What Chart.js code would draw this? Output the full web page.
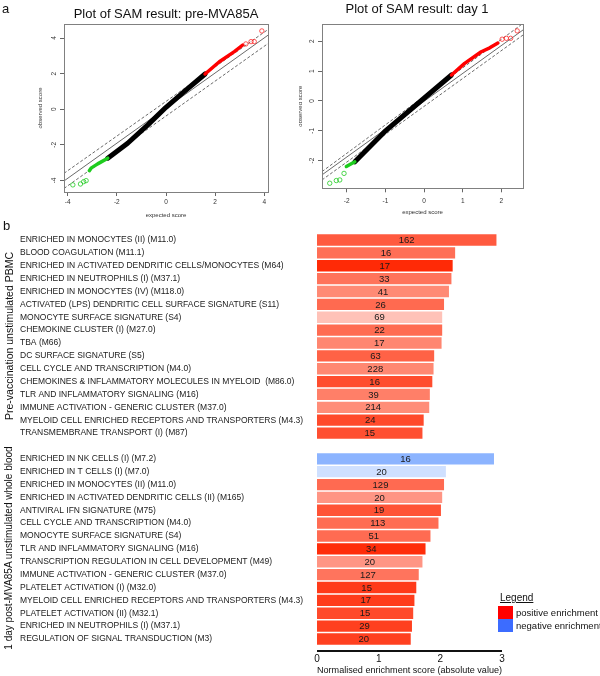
<!DOCTYPE html>
<html>
<head>
<meta charset="utf-8">
<script src="https://cdn.jsdelivr.net/npm/chart.js@4.4.0/dist/chart.umd.min.js"></script>
<style>
  body { margin: 0; background: #fff; }
  #page { position: relative; width: 600px; height: 676px; overflow: hidden; font-family: "Liberation Sans", Arial, sans-serif; color: #111; }
  canvas { position: absolute; }
  .t { position: absolute; white-space: nowrap; line-height: 1; }
  .c { transform: translate(-50%, -50%); }
  .v { transform: translate(-50%, -50%) rotate(-90deg); }
  .m { transform: translateY(-50%); }
  .sw { position: absolute; width: 15px; height: 13px; }
</style>
</head>
<body>
<div id="page">
  <canvas id="samPre" width="300" height="235" style="left:0;top:0"></canvas>
  <canvas id="samDay" width="301" height="235" style="left:299px;top:0"></canvas>
  <canvas id="nesBars" width="600" height="451" style="left:0;top:225px"></canvas>

  <div class="t m" style="left:2px;top:8px;font-size:13px">a</div>
  <div class="t m" style="left:3px;top:225px;font-size:13px">b</div>
  <div class="t c" style="left:166px;top:13px;font-size:13px">Plot of SAM result: pre-MVA85A</div>
  <div class="t c" style="left:417px;top:8px;font-size:13px">Plot of SAM result: day 1</div>

  <div class="t v" style="left:9px;top:336px;font-size:10.5px">Pre-vaccination unstimulated PBMC</div>
  <div class="t v" style="left:9px;top:548px;font-size:10px">1 day post-MVA85A unstimulated whole blood</div>

  <div class="t m" style="left:500px;top:598px;font-size:10px;text-decoration:underline">Legend</div>
  <div class="sw" style="left:498px;top:606px;background:#ff0000"></div>
  <div class="sw" style="left:498px;top:619px;background:#3c6cff"></div>
  <div class="t m" style="left:516px;top:612.5px;font-size:9.5px">positive enrichment</div>
  <div class="t m" style="left:516px;top:625.5px;font-size:9.5px">negative enrichment</div>
</div>

<script>
// ---- panel a: SAM plots ----
const preLineX = [-4.15, 4.15];
const preSolidY = [-4.03, 4.16];
const preUpperY = [-3.6, 4.48];
const preLowerY = [-4.45, 3.69];
const preBlackX = [-2.37, -1.56, -0.74, 0, 0.74, 1.59];
const preBlackY = [-2.75, -1.91, -0.88, 0.11, 0.99, 1.98];
const preRedX = [1.59, 2.17, 2.78, 3.12];
const preRedY = [1.98, 2.67, 3.24, 3.61];
const preRedDotX = [3.25, 3.46, 3.59, 3.9];
const preRedDotY = [3.67, 3.8, 3.8, 4.4];
const preGreenX = [-2.37, -2.78, -3.05, -3.12];
const preGreenY = [-2.75, -3.07, -3.31, -3.45];
const preGreenDotX = [-3.25, -3.35, -3.48, -3.79];
const preGreenDotY = [-4.01, -4.07, -4.2, -4.25];

const dayLineX = [-2.64, 2.56];
const daySolidY = [-2.48, 2.38];
const dayUpperY = [-2.37, 2.6];
const dayLowerY = [-2.65, 2.21];
const dayBlackX = [-1.79, -1.02, 0, 0.71];
const dayBlackY = [-2.04, -1.03, 0.09, 0.87];
const dayRedX = [0.71, 1.05, 1.48, 1.7, 1.91];
const dayRedY = [0.87, 1.26, 1.65, 1.78, 1.94];
const dayRedDotX = [2.02, 2.13, 2.24, 2.41];
const dayRedDotY = [2.07, 2.1, 2.1, 2.35];
const dayGreenX = [-1.79, -2.01];
const dayGreenY = [-2.04, -2.2];
const dayGreenDotX = [-2.07, -2.18, -2.27, -2.44];
const dayGreenDotY = [-2.43, -2.65, -2.67, -2.76];

// ---- panel b: enrichment bars ----
const preModules = [
  'ENRICHED IN MONOCYTES (II) (M11.0)',
  'BLOOD COAGULATION (M11.1)',
  'ENRICHED IN ACTIVATED DENDRITIC CELLS/MONOCYTES (M64)',
  'ENRICHED IN NEUTROPHILS (I) (M37.1)',
  'ENRICHED IN MONOCYTES (IV) (M118.0)',
  'ACTIVATED (LPS) DENDRITIC CELL SURFACE SIGNATURE (S11)',
  'MONOCYTE SURFACE SIGNATURE (S4)',
  'CHEMOKINE CLUSTER (I) (M27.0)',
  'TBA (M66)',
  'DC SURFACE SIGNATURE (S5)',
  'CELL CYCLE AND TRANSCRIPTION (M4.0)',
  'CHEMOKINES & INFLAMMATORY MOLECULES IN MYELOID  (M86.0)',
  'TLR AND INFLAMMATORY SIGNALING (M16)',
  'IMMUNE ACTIVATION - GENERIC CLUSTER (M37.0)',
  'MYELOID CELL ENRICHED RECEPTORS AND TRANSPORTERS (M4.3)',
  'TRANSMEMBRANE TRANSPORT (I) (M87)'
];
const preNES = [2.91, 2.24, 2.20, 2.18, 2.14, 2.06, 2.03, 2.03, 2.02, 1.90, 1.89, 1.87, 1.83, 1.82, 1.73, 1.71];
const preGenes = [162, 16, 17, 33, 41, 26, 69, 22, 17, 63, 228, 16, 39, 214, 24, 15];

const dayModules = [
  'ENRICHED IN NK CELLS (I) (M7.2)',
  'ENRICHED IN T CELLS (I) (M7.0)',
  'ENRICHED IN MONOCYTES (II) (M11.0)',
  'ENRICHED IN ACTIVATED DENDRITIC CELLS (II) (M165)',
  'ANTIVIRAL IFN SIGNATURE (M75)',
  'CELL CYCLE AND TRANSCRIPTION (M4.0)',
  'MONOCYTE SURFACE SIGNATURE (S4)',
  'TLR AND INFLAMMATORY SIGNALING (M16)',
  'TRANSCRIPTION REGULATION IN CELL DEVELOPMENT (M49)',
  'IMMUNE ACTIVATION - GENERIC CLUSTER (M37.0)',
  'PLATELET ACTIVATION (I) (M32.0)',
  'MYELOID CELL ENRICHED RECEPTORS AND TRANSPORTERS (M4.3)',
  'PLATELET ACTIVATION (II) (M32.1)',
  'ENRICHED IN NEUTROPHILS (I) (M37.1)',
  'REGULATION OF SIGNAL TRANSDUCTION (M3)'
];
const dayNES = [2.87, 2.09, 2.06, 2.03, 2.01, 1.97, 1.84, 1.76, 1.71, 1.65, 1.61, 1.58, 1.56, 1.54, 1.52];
const dayGenes = [16, 20, 129, 20, 19, 113, 51, 34, 20, 127, 15, 17, 15, 29, 20];

const xTickLabels = ['0', '1', '2', '3'];

// bar fill colours, same order as the bars (blank slot between groups)
const preColors = ['#ff5a3f', '#ff6f56', '#ff2a06', '#ff735b', '#ff8a75', '#ff6a50', '#ffc2b8', '#ff6c52',
                   '#ff8670', '#ff6246', '#ff8872', '#ff4d2e', '#ff7f68', '#ff8d78', '#ff4a2b', '#ff4f31'];
const dayColors = ['#8cb4ff', '#cfe0ff', '#ff6a51', '#ff9584', '#ff5336', '#ff6c53', '#ff6b52', '#ff2d0a',
                   '#ff9584', '#ff745d', '#ff3a19', '#ff3c1b', '#ff4a2b', '#ff401f', '#ff4020'];

const FONT = '"Liberation Sans", Arial, sans-serif';

function pts(xs, ys) {
  return xs.map((x, i) => ({x: x, y: ys[i]}));
}

// grey frame round the plot region, like R's box()
const frameBox = {
  id: 'frameBox',
  afterDraw(chart) {
    const {ctx, chartArea: a} = chart;
    ctx.save();
    ctx.strokeStyle = '#808080';
    ctx.lineWidth = 1;
    ctx.strokeRect(Math.round(a.left) + 0.5, Math.round(a.top) + 0.5,
                   Math.round(a.right - a.left), Math.round(a.bottom - a.top));
    ctx.restore();
  }
};

// R draws y tick labels parallel to the axis
const rotatedYTicks = {
  id: 'rotatedYTicks',
  afterDraw(chart) {
    const s = chart.scales.y;
    const ctx = chart.ctx;
    ctx.save();
    ctx.font = '6.5px ' + FONT;
    ctx.fillStyle = '#333';
    ctx.textAlign = 'center';
    ctx.textBaseline = 'middle';
    s.ticks.forEach(t => {
      ctx.save();
      ctx.translate(s.right - 10, s.getPixelForValue(t.value));
      ctx.rotate(-Math.PI / 2);
      ctx.fillText(t.label, 0, 0);
      ctx.restore();
    });
    ctx.restore();
  }
};

function samChart(id, d, box) {
  const circle = (color) => ({
    showLine: false, pointRadius: 2.2, pointBorderWidth: 0.8,
    pointBorderColor: color, pointBackgroundColor: 'rgba(0,0,0,0)'
  });
  const run = (color, w) => ({
    showLine: true, borderColor: color, borderWidth: w, pointRadius: 0,
    borderCapStyle: 'round', borderJoinStyle: 'round'
  });
  const guide = (dash) => ({
    showLine: true, borderColor: '#444', borderWidth: 0.8, pointRadius: 0, borderDash: dash
  });
  return new Chart(document.getElementById(id), {
    type: 'scatter',
    data: {
      datasets: [
        Object.assign({data: pts(d.redDotX, d.redDotY)}, circle('#ff2a2a')),
        Object.assign({data: pts(d.greenDotX, d.greenDotY)}, circle('#22cc22')),
        Object.assign({data: pts(d.redX, d.redY)}, run('#ff0000', 3.5)),
        Object.assign({data: pts(d.greenX, d.greenY)}, run('#1ecc1e', 3.5)),
        Object.assign({data: pts(d.blackX, d.blackY)}, run('#000', 5)),
        Object.assign({data: pts(d.lineX, d.solidY)}, guide([])),
        Object.assign({data: pts(d.lineX, d.upperY)}, guide([3, 2])),
        Object.assign({data: pts(d.lineX, d.lowerY)}, guide([3, 2]))
      ]
    },
    options: {
      responsive: false,
      animation: false,
      layout: {padding: {left: 0, right: box.right, top: 24, bottom: 0}},
      plugins: {legend: {display: false}, tooltip: {enabled: false}},
      scales: {
        x: {
          min: box.xmin, max: box.xmax,
          ticks: {stepSize: box.xstep, includeBounds: false, font: {size: 6.5, family: FONT}, color: '#333', padding: box.xpad},
          grid: {drawOnChartArea: false, tickLength: 4, color: '#666'},
          border: {display: false},
          title: {display: true, text: 'expected score', font: {size: 6, family: FONT}, color: '#333',
                  padding: {top: 0, bottom: box.xtitle}},
          afterFit: s => { s.height = box.xh; }
        },
        y: {
          min: box.ymin, max: box.ymax,
          ticks: {stepSize: box.ystep, includeBounds: false, color: 'rgba(0,0,0,0)', font: {size: 6.5, family: FONT}},
          grid: {drawOnChartArea: false, tickLength: 4, color: '#666'},
          border: {display: false},
          title: {display: true, text: 'observed score', font: {size: 6, family: FONT}, color: '#333',
                  padding: {top: box.ytitle, bottom: 0}},
          afterFit: s => { s.width = box.yw; }
        }
      }
    },
    plugins: [frameBox, rotatedYTicks]
  });
}

samChart('samPre', {
  lineX: preLineX, solidY: preSolidY, upperY: preUpperY, lowerY: preLowerY,
  blackX: preBlackX, blackY: preBlackY, redX: preRedX, redY: preRedY,
  redDotX: preRedDotX, redDotY: preRedDotY, greenX: preGreenX, greenY: preGreenY,
  greenDotX: preGreenDotX, greenDotY: preGreenDotY
}, {xmin: -4.15, xmax: 4.15, xstep: 2, ymin: -4.65, ymax: 4.79, ystep: 2,
    right: 32, yw: 64, xh: 43, xpad: 2, xtitle: 16.4, ytitle: 36.4});

samChart('samDay', {
  lineX: dayLineX, solidY: daySolidY, upperY: dayUpperY, lowerY: dayLowerY,
  blackX: dayBlackX, blackY: dayBlackY, redX: dayRedX, redY: dayRedY,
  redDotX: dayRedDotX, redDotY: dayRedDotY, greenX: dayGreenX, greenY: dayGreenY,
  greenDotX: dayGreenDotX, greenDotY: dayGreenDotY
}, {xmin: -2.64, xmax: 2.56, xstep: 1, ymin: -2.93, ymax: 2.58, ystep: 1,
    right: 77, yw: 23, xh: 46.7, xpad: 5, xtitle: 19.4, ytitle: -2});

// ---- bar chart ----
const moduleLabels = preModules.concat([''], dayModules);
const nesValues = preNES.concat([null], dayNES);
const geneCounts = preGenes.concat([null], dayGenes);
const barColors = preColors.concat(['rgba(0,0,0,0)'], dayColors);

const barCounts = {
  id: 'barCounts',
  afterDatasetsDraw(chart) {
    const ctx = chart.ctx;
    ctx.save();
    ctx.font = '9.5px ' + FONT;
    ctx.fillStyle = '#1a1a1a';
    ctx.textAlign = 'center';
    ctx.textBaseline = 'middle';
    chart.getDatasetMeta(0).data.forEach((bar, i) => {
      if (geneCounts[i] == null) return;
      const p = bar.getCenterPoint();
      ctx.fillText(String(geneCounts[i]), p.x, p.y + 0.5);
    });
    ctx.restore();
  }
};

// thick axis line a little below the last bar
const axisLine = {
  id: 'axisLine',
  afterDraw(chart) {
    const {ctx, chartArea: a} = chart;
    ctx.save();
    ctx.strokeStyle = '#111';
    ctx.lineWidth = 2;
    ctx.beginPath();
    ctx.moveTo(a.left, a.bottom + 5.5);
    ctx.lineTo(a.right, a.bottom + 5.5);
    ctx.stroke();
    ctx.restore();
  }
};

new Chart(document.getElementById('nesBars'), {
  type: 'bar',
  data: {
    labels: moduleLabels,
    datasets: [{
      data: nesValues,
      backgroundColor: barColors,
      borderWidth: 0,
      barPercentage: 0.88,
      categoryPercentage: 1
    }]
  },
  options: {
    indexAxis: 'y',
    responsive: false,
    animation: false,
    layout: {padding: {left: 20, right: 98, top: 8.6, bottom: 0}},
    plugins: {legend: {display: false}, tooltip: {enabled: false}},
    scales: {
      x: {
        min: 0, max: 3,
        ticks: {stepSize: 1, padding: 8, color: '#111', font: {size: 10, family: FONT},
                callback: (v, i) => xTickLabels[i]},
        grid: {display: false, drawTicks: false},
        border: {display: false},
        title: {display: true, text: 'Normalised enrichment score (absolute value)', color: '#111',
                font: {size: 9.5, family: FONT}, padding: {top: 0, bottom: 0}},
        afterFit: s => { s.height = 30.6; }
      },
      y: {
        ticks: {autoSkip: false, crossAlign: 'far', color: '#1a1a1a', font: {size: 8.5, family: FONT}},
        grid: {display: false, drawTicks: false},
        border: {display: false},
        afterFit: s => { s.width = 297; }
      }
    }
  },
  plugins: [barCounts, axisLine]
});
</script>
</body>
</html>
